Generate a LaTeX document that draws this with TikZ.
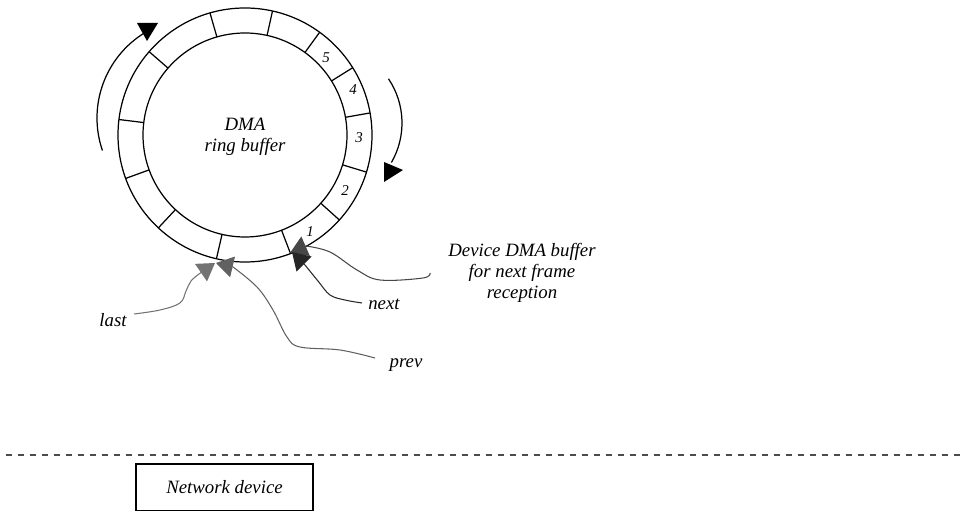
\documentclass[tikz,border=0pt]{standalone}
\usepackage{fontspec}
\setmainfont{Liberation Serif}
\usepackage{tikz}
\usetikzlibrary{arrows.meta, positioning, calc}

\begin{document}
\begin{tikzpicture}[
    x=0.02cm, y=0.02cm,
    ring/.style={line width=0.7pt, black},
    lbl/.style={font=\fontsize{10.7}{11.9}\selectfont\itshape, align=center, inner sep=1pt},
    num/.style={font=\fontsize{8.5}{10}\selectfont\itshape, inner sep=0pt},
    ptr/.style={line width=0.6pt, #1, -{Triangle[length=3.4mm, width=4.2mm]}},
    turn/.style={line width=0.7pt, black},
    head/.style={fill=black}
]
\useasboundingbox (0,0) rectangle (965,511);

% Ring buffer
\coordinate (c) at (245,376);
\draw[ring] (c) circle[radius=102];
\draw[ring] (c) circle[radius=127];
\foreach \a in {10,32,54,77.5,106,139,173,200,227,257,291,318,343}
    \draw[ring] (c) ++(\a:102) -- ++(\a:25);
\node[lbl] (dma) at (245,374) {DMA\\ring buffer};

% Slot numbers
\node[num] (n5) at (326,453) {5};
\node[num] (n4) at (353,421) {4};
\node[num] (n3) at (359,373) {3};
\node[num] (n2) at (345,320) {2};
\node[num] (n1) at (310,279) {1};

% Turning arrows
\draw[turn] (197,393) ++(199:100) arc[start angle=199, end angle=121, radius=100];
\fill[head] (137,488) -- (158,488) -- (147,470) -- cycle;
\draw[turn] (323,388) ++(34:79) arc[start angle=34, end angle=-30, radius=79];
\fill[head] (384,349) -- (384,329) -- (403,341) -- cycle;

% Labels
\node[lbl] (devlbl) at (522,238) {Device DMA buffer\\for next frame\\reception};
\node[lbl] (nextlbl) at (384,207) {next};
\node[lbl] (lastlbl) at (113,191) {last};
\node[lbl] (prevlbl) at (406,146) {prev};

% Pointer ends
\coordinate (devfrom) at (430,238);
\coordinate (nextfrom) at (362,208);
\coordinate (lastfrom) at (134,197);
\coordinate (prevfrom) at (375,153);
\coordinate (tipdev) at (290,258);
\coordinate (tipnext) at (292,259);
\coordinate (tiplast) at (215,248);
\coordinate (tipprev) at (216,248);

% Pointers
\draw[ptr=black!55] plot[smooth, tension=0.6] coordinates {(lastfrom) (160,201) (180,208) (186,220) (191,230) (199,237)} -- (tiplast);
\draw[ptr=black!62] plot[smooth, tension=0.6] coordinates {(prevfrom) (340,161) (300,164) (287,174) (273,201) (257,224) (233,244)} -- (tipprev);
\draw[ptr=black!72] plot[smooth, tension=0.6] coordinates {(devfrom) (423,233) (380,231) (357,241) (330,259) (306,265)} -- (tipdev);
\draw[ptr=black!85] plot[smooth, tension=0.6] coordinates {(nextfrom) (345,211) (330,216) (318,230) (305,246)} -- (tipnext);

% Separator and device
\draw[black!70, line width=0.6pt, dash pattern=on 0.12cm off 0.12cm] (6,56) -- (965,56);
\node[draw, line width=0.6pt, minimum width=3.54cm, minimum height=0.94cm, lbl] (netdev) at (224.5,23.5) {Network device};

\end{tikzpicture}
\end{document}
